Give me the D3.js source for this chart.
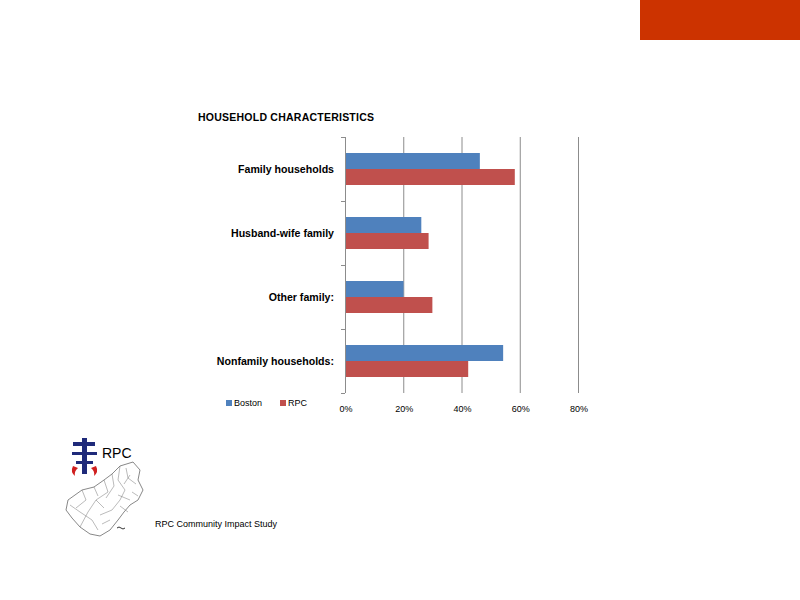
<!DOCTYPE html>
<html>
<head>
<meta charset="utf-8">
<script src="https://cdn.jsdelivr.net/npm/d3@7"></script>
<style>
  body { margin: 0; background: #fff; }
  svg { display: block; }
  .cat { font: bold 10.6px "Liberation Sans", Arial, sans-serif; fill: #000; }
  .tick-lab { font: 9px "Liberation Sans", Arial, sans-serif; fill: #000; }
</style>
</head>
<body>
<div class="container"></div>
<script>
// chart data
var categories = ["Family households", "Husband-wife family", "Other family:", "Nonfamily households:"]
var series = ["Boston", "RPC"]
var boston = [46.3, 26.2, 20.1, 54.3]
var rpc = [58.3, 28.7, 30.0, 42.3]
var xTicks = [0, 20, 40, 60, 80]
var colors = ["#4F81BD", "#C0504D"]

var width = 800, height = 600

var svg = d3.select(".container").append("svg")
    .attr("width", width)
    .attr("height", height)

// orange block top right
svg.append("rect")
  .attr("x", 640).attr("y", 0)
  .attr("width", 160).attr("height", 40)
  .attr("fill", "#CC3300")

// title
svg.append("text")
  .attr("x", 198).attr("y", 121)
  .attr("textLength", 176)
  .style("font", "bold 10.5px 'Liberation Sans', Arial, sans-serif")
  .text("HOUSEHOLD CHARACTERISTICS")

// ---------- PLOT ----------
var plot = { left: 345, right: 578, top: 137, bottom: 393 }

var x = d3.scaleLinear().domain([0, 80]).range([plot.left, plot.right])

var y = d3.scaleBand()
  .domain(categories)
  .range([plot.top, plot.bottom])
  .paddingInner(0.5)
  .paddingOuter(0.25)

var ySub = d3.scaleBand()
  .domain(series)
  .range([0, y.bandwidth()])

var bands = d3.scaleBand().domain(categories).range([plot.top, plot.bottom])

// gridlines
svg.append("g")
  .selectAll("line")
  .data(xTicks.slice(1))
  .enter().append("line")
  .attr("x1", function(d) { return x(d) + 0.5 })
  .attr("x2", function(d) { return x(d) + 0.5 })
  .attr("y1", plot.top)
  .attr("y2", plot.bottom)
  .attr("stroke", "#8c8c8c")
  .attr("stroke-width", 1)

// bars
var rows = categories.map(function(c, i) {
  return { cat: c, values: [{ s: "Boston", v: boston[i] }, { s: "RPC", v: rpc[i] }] }
})

var groups = svg.append("g").selectAll("g")
  .data(rows)
  .enter().append("g")
  .attr("transform", function(d) { return "translate(0," + y(d.cat) + ")" })

groups.selectAll("rect")
  .data(function(d) { return d.values })
  .enter().append("rect")
  .attr("x", x(0))
  .attr("y", function(d) { return ySub(d.s) })
  .attr("width", function(d) { return x(d.v) - x(0) })
  .attr("height", ySub.bandwidth())
  .attr("fill", function(d, i) { return colors[i] })

// left axis line + ticks
svg.append("line")
  .attr("x1", plot.left + 0.5).attr("x2", plot.left + 0.5)
  .attr("y1", plot.top).attr("y2", plot.bottom)
  .attr("stroke", "#8c8c8c")

var boundaries = categories.map(function(c) { return bands(c) }).concat([plot.bottom])
svg.append("g").selectAll("line")
  .data(boundaries)
  .enter().append("line")
  .attr("x1", plot.left - 4).attr("x2", plot.left)
  .attr("y1", function(d) { return Math.round(d) + 0.5 })
  .attr("y2", function(d) { return Math.round(d) + 0.5 })
  .attr("stroke", "#8c8c8c")

// category labels
svg.append("g").selectAll("text")
  .data(categories)
  .enter().append("text")
  .attr("class", "cat")
  .attr("x", 334)
  .attr("y", function(d) { return bands(d) + bands.bandwidth() / 2 + 4 })
  .attr("text-anchor", "end")
  .text(function(d) { return d })

// x tick labels
svg.append("g").selectAll("text")
  .data(xTicks)
  .enter().append("text")
  .attr("class", "tick-lab")
  .attr("x", function(d) { return x(d) + 1 })
  .attr("y", 412)
  .attr("text-anchor", "middle")
  .text(function(d) { return d + "%" })

// legend
var legend = svg.append("g").selectAll("g")
  .data(series)
  .enter().append("g")
  .attr("transform", function(d, i) { return "translate(" + (226 + i * 54) + ",400)" })

legend.append("rect")
  .attr("width", 6).attr("height", 6)
  .attr("fill", function(d, i) { return colors[i] })

legend.append("text")
  .attr("class", "tick-lab")
  .attr("x", 8).attr("y", 6)
  .text(function(d) { return d })

// ---------- LOGO ----------
var logo = svg.append("g")

// cross emblem
logo.append("rect").attr("x", 73).attr("y", 442).attr("width", 22).attr("height", 4).attr("fill", "#1f2a7a")
logo.append("rect").attr("x", 82).attr("y", 438).attr("width", 5).attr("height", 36).attr("fill", "#1f2a7a")
logo.append("rect").attr("x", 72).attr("y", 452).attr("width", 25).attr("height", 3).attr("fill", "#1f2a7a")
logo.append("rect").attr("x", 76).attr("y", 461).attr("width", 17).attr("height", 3).attr("fill", "#1f2a7a")
logo.append("path").attr("d", "M73,466 q-3,6 2,10 q-1,-5 3,-8 z").attr("fill", "#d02020")
logo.append("path").attr("d", "M96,466 q3,6 -2,10 q1,-5 -3,-8 z").attr("fill", "#d02020")

logo.append("text")
  .attr("x", 102).attr("y", 458)
  .style("font", "14px 'Liberation Sans', Arial, sans-serif")
  .text("RPC")

// region map outline
logo.append("path")
  .attr("d", "M133,462 L140,470 L138,480 L143,490 L138,500 L130,505 L124,512 L118,520 L110,530 L100,536 L90,534 L80,527 L72,518 L66,510 L68,500 L82,490 L94,487 L104,480 L112,474 L120,466 Z")
  .attr("fill", "none")
  .attr("stroke", "#555")
  .attr("stroke-width", 0.7)

logo.append("path")
  .attr("d", "M120,466 L118,480 L125,490 L120,500 L112,510 L100,515 M104,480 L108,492 L96,500 L88,512 L80,527 M82,490 L86,500 L76,508 M130,475 L124,484 M118,495 L130,500 M94,487 L98,496 M110,520 L102,524 M96,500 L104,508 M126,468 L128,478 L136,484 M112,474 L114,486 L106,498 M70,505 L80,512 L92,520 L98,530 M120,506 L128,512 M132,492 L138,496")
  .attr("fill", "none")
  .attr("stroke", "#777")
  .attr("stroke-width", 0.5)

logo.append("path")
  .attr("d", "M117,528 q2,-2 4,0 q2,2 4,0")
  .attr("fill", "none")
  .attr("stroke", "#000")
  .attr("stroke-width", 0.8)

svg.append("text")
  .attr("x", 155).attr("y", 527)
  .style("font", "9px 'Liberation Sans', Arial, sans-serif")
  .text("RPC Community  Impact  Study")
</script>
</body>
</html>
